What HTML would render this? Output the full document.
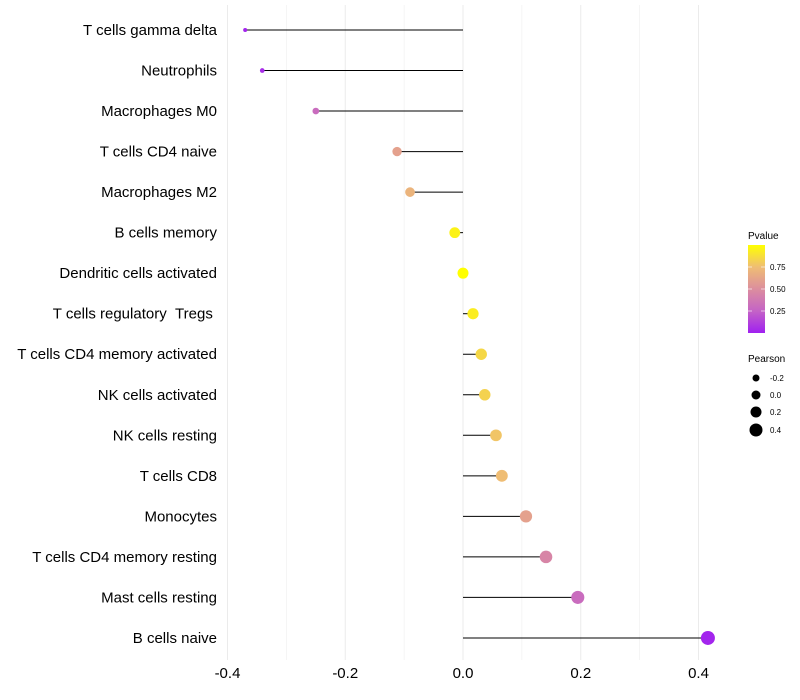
<!DOCTYPE html>
<html><head><meta charset="utf-8"><style>body{margin:0;background:#fff}svg{display:block;font-family:"Liberation Sans",sans-serif}</style></head>
<body>
<svg id="c" width="800" height="700">
<defs><linearGradient id="pg" x1="0" y1="1" x2="0" y2="0">
<stop offset="0" stop-color="#a020f0"/><stop offset="0.25" stop-color="#c463c6"/><stop offset="0.5" stop-color="#dc8e9e"/><stop offset="0.75" stop-color="#efbd74"/><stop offset="1" stop-color="#ffff00"/></linearGradient></defs>
<g id="grid"></g><g id="marks"></g><g id="labels"></g>
<g>
<text x="748" y="239" font-size="10">Pvalue</text>
<rect x="748" y="245" width="17" height="88" fill="url(#pg)"/>
<g stroke="#fff" stroke-opacity="0.6"><line x1="748" x2="752" y1="267" y2="267"/><line x1="761" x2="765" y1="267" y2="267"/><line x1="748" x2="752" y1="289" y2="289"/><line x1="761" x2="765" y1="289" y2="289"/><line x1="748" x2="752" y1="311" y2="311"/><line x1="761" x2="765" y1="311" y2="311"/></g>
<g font-size="8"><text x="770" y="270">0.75</text><text x="770" y="292">0.50</text><text x="770" y="314">0.25</text></g>
</g>
<g>
<text x="748" y="362" font-size="10">Pearson</text>
<circle cx="756" cy="378" r="3.5"/><circle cx="756" cy="395" r="4.5"/><circle cx="756" cy="412" r="5.5"/><circle cx="756" cy="430" r="6.5"/>
<g font-size="8"><text x="770" y="381">-0.2</text><text x="770" y="398">0.0</text><text x="770" y="415">0.2</text><text x="770" y="433">0.4</text></g>
</g>
</svg>
<script>
const cells=["T cells gamma delta","Neutrophils","Macrophages M0","T cells CD4 naive","Macrophages M2","B cells memory","Dendritic cells activated","T cells regulatory\u00a0\u00a0Tregs\u00a0","T cells CD4 memory activated","NK cells activated","NK cells resting","T cells CD8","Monocytes","T cells CD4 memory resting","Mast cells resting","B cells naive"];
const pearson=[-0.370,-0.341,-0.250,-0.112,-0.090,-0.014,0.0,0.017,0.031,0.037,0.056,0.066,0.107,0.141,0.195,0.416];
const pvalue=[0.02,0.05,0.3,0.6,0.7,0.95,1.0,0.93,0.85,0.83,0.78,0.75,0.6,0.45,0.3,0.02];
const xTicks=[-0.4,-0.2,0.0,0.2,0.4];
const ns="http://www.w3.org/2000/svg";
const X=v=>463+v*588.75, Y=i=>30+i*40.53;
const R=v=>Math.max(1.8,5.5+6.7*v-7.45*v*v);
const stops=[[0,[160,32,240]],[0.25,[196,99,198]],[0.5,[220,142,158]],[0.75,[239,189,116]],[1,[255,255,0]]];
function col(p){for(let k=1;k<stops.length;k++){if(p<=stops[k][0]){const a=stops[k-1],b=stops[k],t=(p-a[0])/(b[0]-a[0]);return "rgb("+a[1].map((c,j)=>Math.round(c+(b[1][j]-c)*t)).join(",")+")";}}return "rgb(255,255,0)";}
function mk(t,a,p){const e=document.createElementNS(ns,t);for(const k in a)e.setAttribute(k,a[k]);p.appendChild(e);return e;}
const g=document.getElementById('grid'),m=document.getElementById('marks'),l=document.getElementById('labels');
for(let v=-0.4;v<=0.41;v+=0.1){const e=mk('line',{x1:X(v),x2:X(v),y1:5,y2:660,stroke:'#ebebeb','stroke-width':Math.abs(Math.round(v*10))%2==0?1:0.5},g);

}
xTicks.forEach(v=>{const t=mk('text',{x:X(v),y:678,'font-size':15,'text-anchor':'middle',fill:'#000'},l);t.textContent=v.toFixed(1);

});
cells.forEach((c,i)=>{const y=Y(i);
const t=mk('text',{x:217,y:y+5,'font-size':15,'text-anchor':'end',fill:'#000'},l);t.textContent=c;


const ln=mk('line',{x1:X(0),x2:X(pearson[i]),y1:y,y2:y,stroke:'#000','stroke-width':1},m);


const d=mk('circle',{cx:X(pearson[i]),cy:y,r:R(pearson[i]),fill:col(pvalue[i])},m);


});
</script>
</body></html>
